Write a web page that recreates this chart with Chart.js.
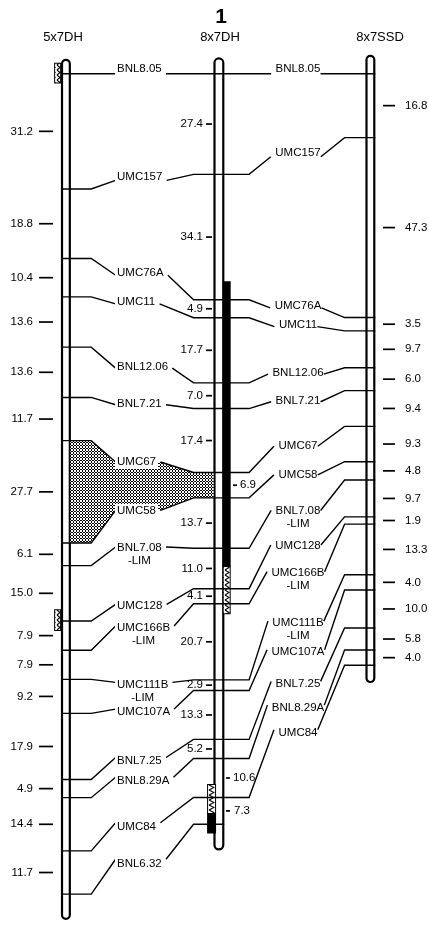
<!DOCTYPE html>
<html><head><meta charset="utf-8">
<script src="https://cdn.jsdelivr.net/npm/chart.js@4.4.1/dist/chart.umd.min.js"></script>
<style>html,body{margin:0;padding:0;background:#fff;overflow:hidden}canvas{display:block}</style>
</head><body>
<canvas id="c" width="429" height="929" style="width:429px;height:929px"></canvas>
<script>
// ================= DATA =================
const chromosomeTitle = '1';
const mapNames = ['5x7DH', '8x7DH', '8x7SSD'];
const markers = ['BNL8.05','UMC157','UMC76A','UMC11','BNL12.06','BNL7.21','UMC67','UMC58',
  'BNL7.08 -LIM','UMC128','UMC166B -LIM','UMC111B -LIM','UMC107A','BNL7.25','BNL8.29A','UMC84','BNL6.32'];
const markersSSD = ['BNL8.05','UMC157','UMC76A','UMC11','BNL12.06','BNL7.21','UMC67','UMC58',
  'BNL7.08 -LIM','UMC128','UMC166B -LIM','UMC111B -LIM','UMC107A','BNL7.25','BNL8.29A','UMC84'];
// distances (cM) between consecutive markers
const dist5x7DH  = [31.2,18.8,10.4,13.6,13.6,11.7,27.7,6.1,15.0,7.9,7.9,9.2,17.9,4.9,14.4,11.7];
const dist8x7DH  = [27.4,34.1,4.9,17.7,7.0,17.4,6.9,13.7,11.0,4.1,20.7,2.9,13.3,5.2,10.6,7.3];
const dist8x7SSD = [16.8,47.3,3.5,9.7,6.0,9.4,9.3,4.8,9.7,1.9,13.3,4.0,10.0,5.8,4.0];
// highlighted intervals on the chromosomes (cM)
const solidIntervals8x7DH   = [[56.5,134.1],[201.1,206.7]];
const hatchedIntervals8x7DH = [[134.1,146.8],[193.5,201.1]];
const hatchedIntervals5x7DH = [[-2.7,2.4],[145.2,150.5]];

// ================= LAYOUT =================
const W = 429, H = 929, TOP = 69;
const PX = {yL:3.74, yM:3.72, yR:3.85};           // pixels per cM for each map
const CHROM = [
  {axis:'yL', x:62,    w:10, padTop:10, padBot:21},
  {axis:'yM', x:219,   w:11, padTop:11, padBot:21},
  {axis:'yR', x:374.5, w:10, padTop:14, padBot:13}
];
const SOLID_X = [[227,8],[211.5,9]];
const HATCH_M_X = [[227,8],[211.5,9]];
const HATCH_L_X = [[53.5,7],[53.5,7]];
const LEFT_LABEL_X = 117;
const LEFT_LABEL_Y = [69,177,273,302,367,404,462,511,548,606,628,685,712,761,781,827,864];
const RIGHT_LABEL_CX = 298;
const RIGHT_LABEL_Y = [69,153,306,325,373,401,446,475,511,546,573,623,652,684,708,733];
const LINE2_DY = 12.5;
const X = {Ledge:57, Redge:66.5, Lbend:88, Lanchor:113, MbendL:193, Mleft:213.5, Mright:224.5,
           MbendR:250, RbendR:348, RchromR:379.5};
const LABEL_FONT = '11.5px "Liberation Sans", Arial, sans-serif';
const NUM_FONT = '11.5px "Liberation Sans", Arial, sans-serif';
const TITLE_FONT = '13px "Liberation Sans", Arial, sans-serif';
const MID_RIGHT_SIDE = {6:[233,237,240], 14:[226,230,233], 15:[226,230,234]};

function cumsum(a){ const r=[0]; a.forEach(v=>r.push(Math.round((r[r.length-1]+v)*100)/100)); return r; }
const cumL = cumsum(dist5x7DH), cumM = cumsum(dist8x7DH), cumR = cumsum(dist8x7SSD);
const CUM = {yL:cumL, yM:cumM, yR:cumR};

function yAxis(s){ return {type:'linear', display:false, reverse:true, min:-TOP/s, max:(H-TOP)/s}; }

// patterns
function stipplePattern(ctx){
  const c = document.createElement('canvas'); c.width=3; c.height=3;
  const g = c.getContext('2d'); g.fillStyle='#fff'; g.fillRect(0,0,3,3);
  g.fillStyle='#000'; [[1,0],[0,1],[2,1],[1,2]].forEach(p=>g.fillRect(p[0],p[1],1,1));
  return ctx.createPattern(c,'repeat');
}
function zigPattern(ctx, xLeft, tw){
  const c = document.createElement('canvas'); c.width=tw; c.height=5;
  const g = c.getContext('2d'); g.fillStyle='#fff'; g.fillRect(0,0,tw,5);
  g.strokeStyle='#000'; g.lineWidth=1.1; g.beginPath();
  g.moveTo(1,0); g.lineTo(tw-1,2.5); g.lineTo(1,5); g.stroke();
  const p = ctx.createPattern(c,'repeat');
  if (p.setTransform) p.setTransform(new DOMMatrix([1,0,0,1,xLeft,0]));
  return p;
}

function lineDS(points, axis, opts){
  return Object.assign({type:'line', data:points, xAxisID:'x', yAxisID:axis, borderColor:'#000',
    borderWidth:1.4, pointRadius:0, pointHoverRadius:0, fill:false, tension:0, order:1}, opts||{});
}

const canvas = document.getElementById('c');
const c2d = canvas.getContext('2d');
const datasets = [];
// chromosomes
CHROM.forEach((ch,k)=>{
  const cum = CUM[ch.axis], s = PX[ch.axis];
  const pts = [{x:ch.x, y:-ch.padTop/s}, {x:ch.x, y:cum[cum.length-1]+ch.padBot/s}];
  datasets.push(lineDS(pts, ch.axis, {label:mapNames[k], borderWidth:ch.w, borderCapStyle:'round', order:20}));
  datasets.push(lineDS(pts.map(p=>({...p})), ch.axis, {label:mapNames[k]+' inner', borderColor:'#fff', borderWidth:ch.w-4.4, borderCapStyle:'round', order:19}));
});
// solid intervals
solidIntervals8x7DH.forEach((iv,k)=>{
  const [x,w] = SOLID_X[k];
  datasets.push(lineDS([{x, y:iv[0]},{x, y:iv[1]}], 'yM', {borderWidth:w, borderCapStyle:'butt', order:15}));
});
function hatched(iv, x, w, axis){
  const e = 1/PX[axis];
  datasets.push(lineDS([{x, y:iv[0]-e},{x, y:iv[1]+e}], axis, {borderWidth:w, borderCapStyle:'butt', order:16}));
  datasets.push(lineDS([{x, y:iv[0]},{x, y:iv[1]}], axis, {borderColor:zigPattern(c2d, x-(w-2)/2, w-2), borderWidth:w-2, borderCapStyle:'butt', order:15}));
}
hatchedIntervals8x7DH.forEach((iv,k)=>hatched(iv, HATCH_M_X[k][0], HATCH_M_X[k][1], 'yM'));
hatchedIntervals5x7DH.forEach((iv,k)=>hatched(iv, HATCH_L_X[k][0], HATCH_L_X[k][1], 'yL'));

const textPlugin = {
  id:'mapText',
  afterDatasetsDraw(chart){
    const ctx = chart.ctx, sc = chart.scales;
    ctx.save();
    ctx.textBaseline = 'middle';
    ctx.fillStyle = '#000'; ctx.strokeStyle = '#000';
    ctx.textAlign = 'center';
    ctx.font = 'bold 21px "Liberation Sans", Arial, sans-serif';
    ctx.fillText(chromosomeTitle, 221, 17);
    ctx.font = TITLE_FONT;
    ctx.fillText(mapNames[0], 63, 37);
    ctx.fillText(mapNames[1], 220, 37);
    ctx.fillText(mapNames[2], 380, 37);
    // marker labels
    ctx.font = LABEL_FONT;
    markers.forEach((m,i)=>{
      const lines = m.split(' ');
      const w = ctx.measureText(lines[0]).width, y = LEFT_LABEL_Y[i];
      ctx.fillStyle='#fff'; ctx.fillRect(LEFT_LABEL_X-2, y-7, w+4, 14);
      ctx.fillStyle='#000'; ctx.textAlign='left'; ctx.fillText(lines[0], LEFT_LABEL_X, y);
      if (lines[1]) { ctx.textAlign='center'; ctx.fillText(lines[1], LEFT_LABEL_X+w/2, y+LINE2_DY); }
    });
    markersSSD.forEach((m,i)=>{
      const lines = m.split(' '), y = RIGHT_LABEL_Y[i];
      ctx.textAlign='center';
      ctx.fillText(lines[0], RIGHT_LABEL_CX, y);
      if (lines[1]) ctx.fillText(lines[1], RIGHT_LABEL_CX, y+LINE2_DY);
    });
    // distances
    ctx.font = NUM_FONT; ctx.lineWidth = 1.7;
    const tick = (x0,x1,y)=>{ ctx.beginPath(); ctx.moveTo(x0,y); ctx.lineTo(x1,y); ctx.stroke(); };
    dist5x7DH.forEach((d,k)=>{
      const y = sc.yL.getPixelForValue((cumL[k]+cumL[k+1])/2);
      tick(39,53,y); ctx.textAlign='right'; ctx.fillText(d.toFixed(1), 33, y);
    });
    dist8x7DH.forEach((d,k)=>{
      const y = sc.yM.getPixelForValue((cumM[k]+cumM[k+1])/2);
      const rs = MID_RIGHT_SIDE[k];
      if (rs) { tick(rs[0],rs[1],y); ctx.textAlign='left'; ctx.fillText(d.toFixed(1), rs[2], y); }
      else { tick(206,212,y); ctx.textAlign='right'; ctx.fillText(d.toFixed(1), 203, y); }
    });
    dist8x7SSD.forEach((d,k)=>{
      const y = sc.yR.getPixelForValue((cumR[k]+cumR[k+1])/2);
      tick(383,395,y); ctx.textAlign='left'; ctx.fillText(d.toFixed(1), 405, y);
    });
    ctx.restore();
  }
};

const chart = new Chart(canvas, {
  type:'line',
  data:{datasets},
  options:{
    responsive:false, animation:false, devicePixelRatio:1, events:[],
    layout:{padding:0},
    plugins:{legend:{display:false}, tooltip:{enabled:false}},
    elements:{point:{radius:0}},
    scales:{
      x:{type:'linear', display:false, min:0, max:W, offset:false},
      yL:yAxis(PX.yL), yM:yAxis(PX.yM), yR:yAxis(PX.yR),
      yP:{type:'linear', display:false, reverse:true, min:0, max:H}
    }
  },
  plugins:[textPlugin]
});

// connectors, positioned through the chart's own scales
(function(){
  const sc = chart.scales;
  c2d.save(); c2d.font = LABEL_FONT;
  const yl = i=>sc.yL.getPixelForValue(cumL[i]);
  const ym = i=>sc.yM.getPixelForValue(cumM[i]);
  const yr = i=>sc.yR.getPixelForValue(cumR[i]);
  const tEnd = [];
  const extra = [];
  markers.forEach((m,i)=>{
    const first = m.split(' ')[0];
    const te = LEFT_LABEL_X + c2d.measureText(first).width;
    tEnd.push(te);
    const ly = LEFT_LABEL_Y[i];
    extra.push(lineDS([{x:X.Ledge,y:yl(i)},{x:X.Lbend,y:yl(i)},{x:X.Lanchor,y:ly}], 'yP'));
    const seg = [{x:te+3,y:ly},{x:X.MbendL,y:ym(i)}];
    if (i < markersSSD.length) {
      const rw = c2d.measureText(markersSSD[i].split(' ')[0]).width;
      const ry = RIGHT_LABEL_Y[i];
      seg.push({x:X.MbendR,y:ym(i)},{x:RIGHT_LABEL_CX-rw/2-3,y:ry});
      extra.push(lineDS([{x:RIGHT_LABEL_CX+rw/2+3,y:ry},{x:X.RbendR,y:yr(i)},{x:X.RchromR,y:yr(i)}], 'yP'));
    } else {
      seg.push({x:X.Mright,y:ym(i)});
    }
    extra.push(lineDS(seg, 'yP'));
  });
  // stippled region between UMC67 and UMC58 (5x7DH -> 8x7DH)
  const a = 6, b = 7;
  extra.push(lineDS([
    {x:X.Redge,y:yl(a)},{x:X.Lbend,y:yl(a)},{x:X.Lanchor,y:LEFT_LABEL_Y[a]},{x:tEnd[a]+3,y:LEFT_LABEL_Y[a]},
    {x:X.MbendL,y:ym(a)},{x:X.Mleft,y:ym(a)},{x:X.Mleft,y:ym(b)},{x:X.MbendL,y:ym(b)},
    {x:tEnd[b]+3,y:LEFT_LABEL_Y[b]},{x:X.Lanchor,y:LEFT_LABEL_Y[b]},{x:X.Lbend,y:yl(b)},{x:X.Redge,y:yl(b)}
  ], 'yP', {borderWidth:0, borderColor:'rgba(0,0,0,0)', fill:'shape', backgroundColor:stipplePattern(c2d), order:12}));
  c2d.restore();
  extra.forEach(d=>chart.data.datasets.push(d));
  chart.update('none');
})();
</script>
</body></html>
